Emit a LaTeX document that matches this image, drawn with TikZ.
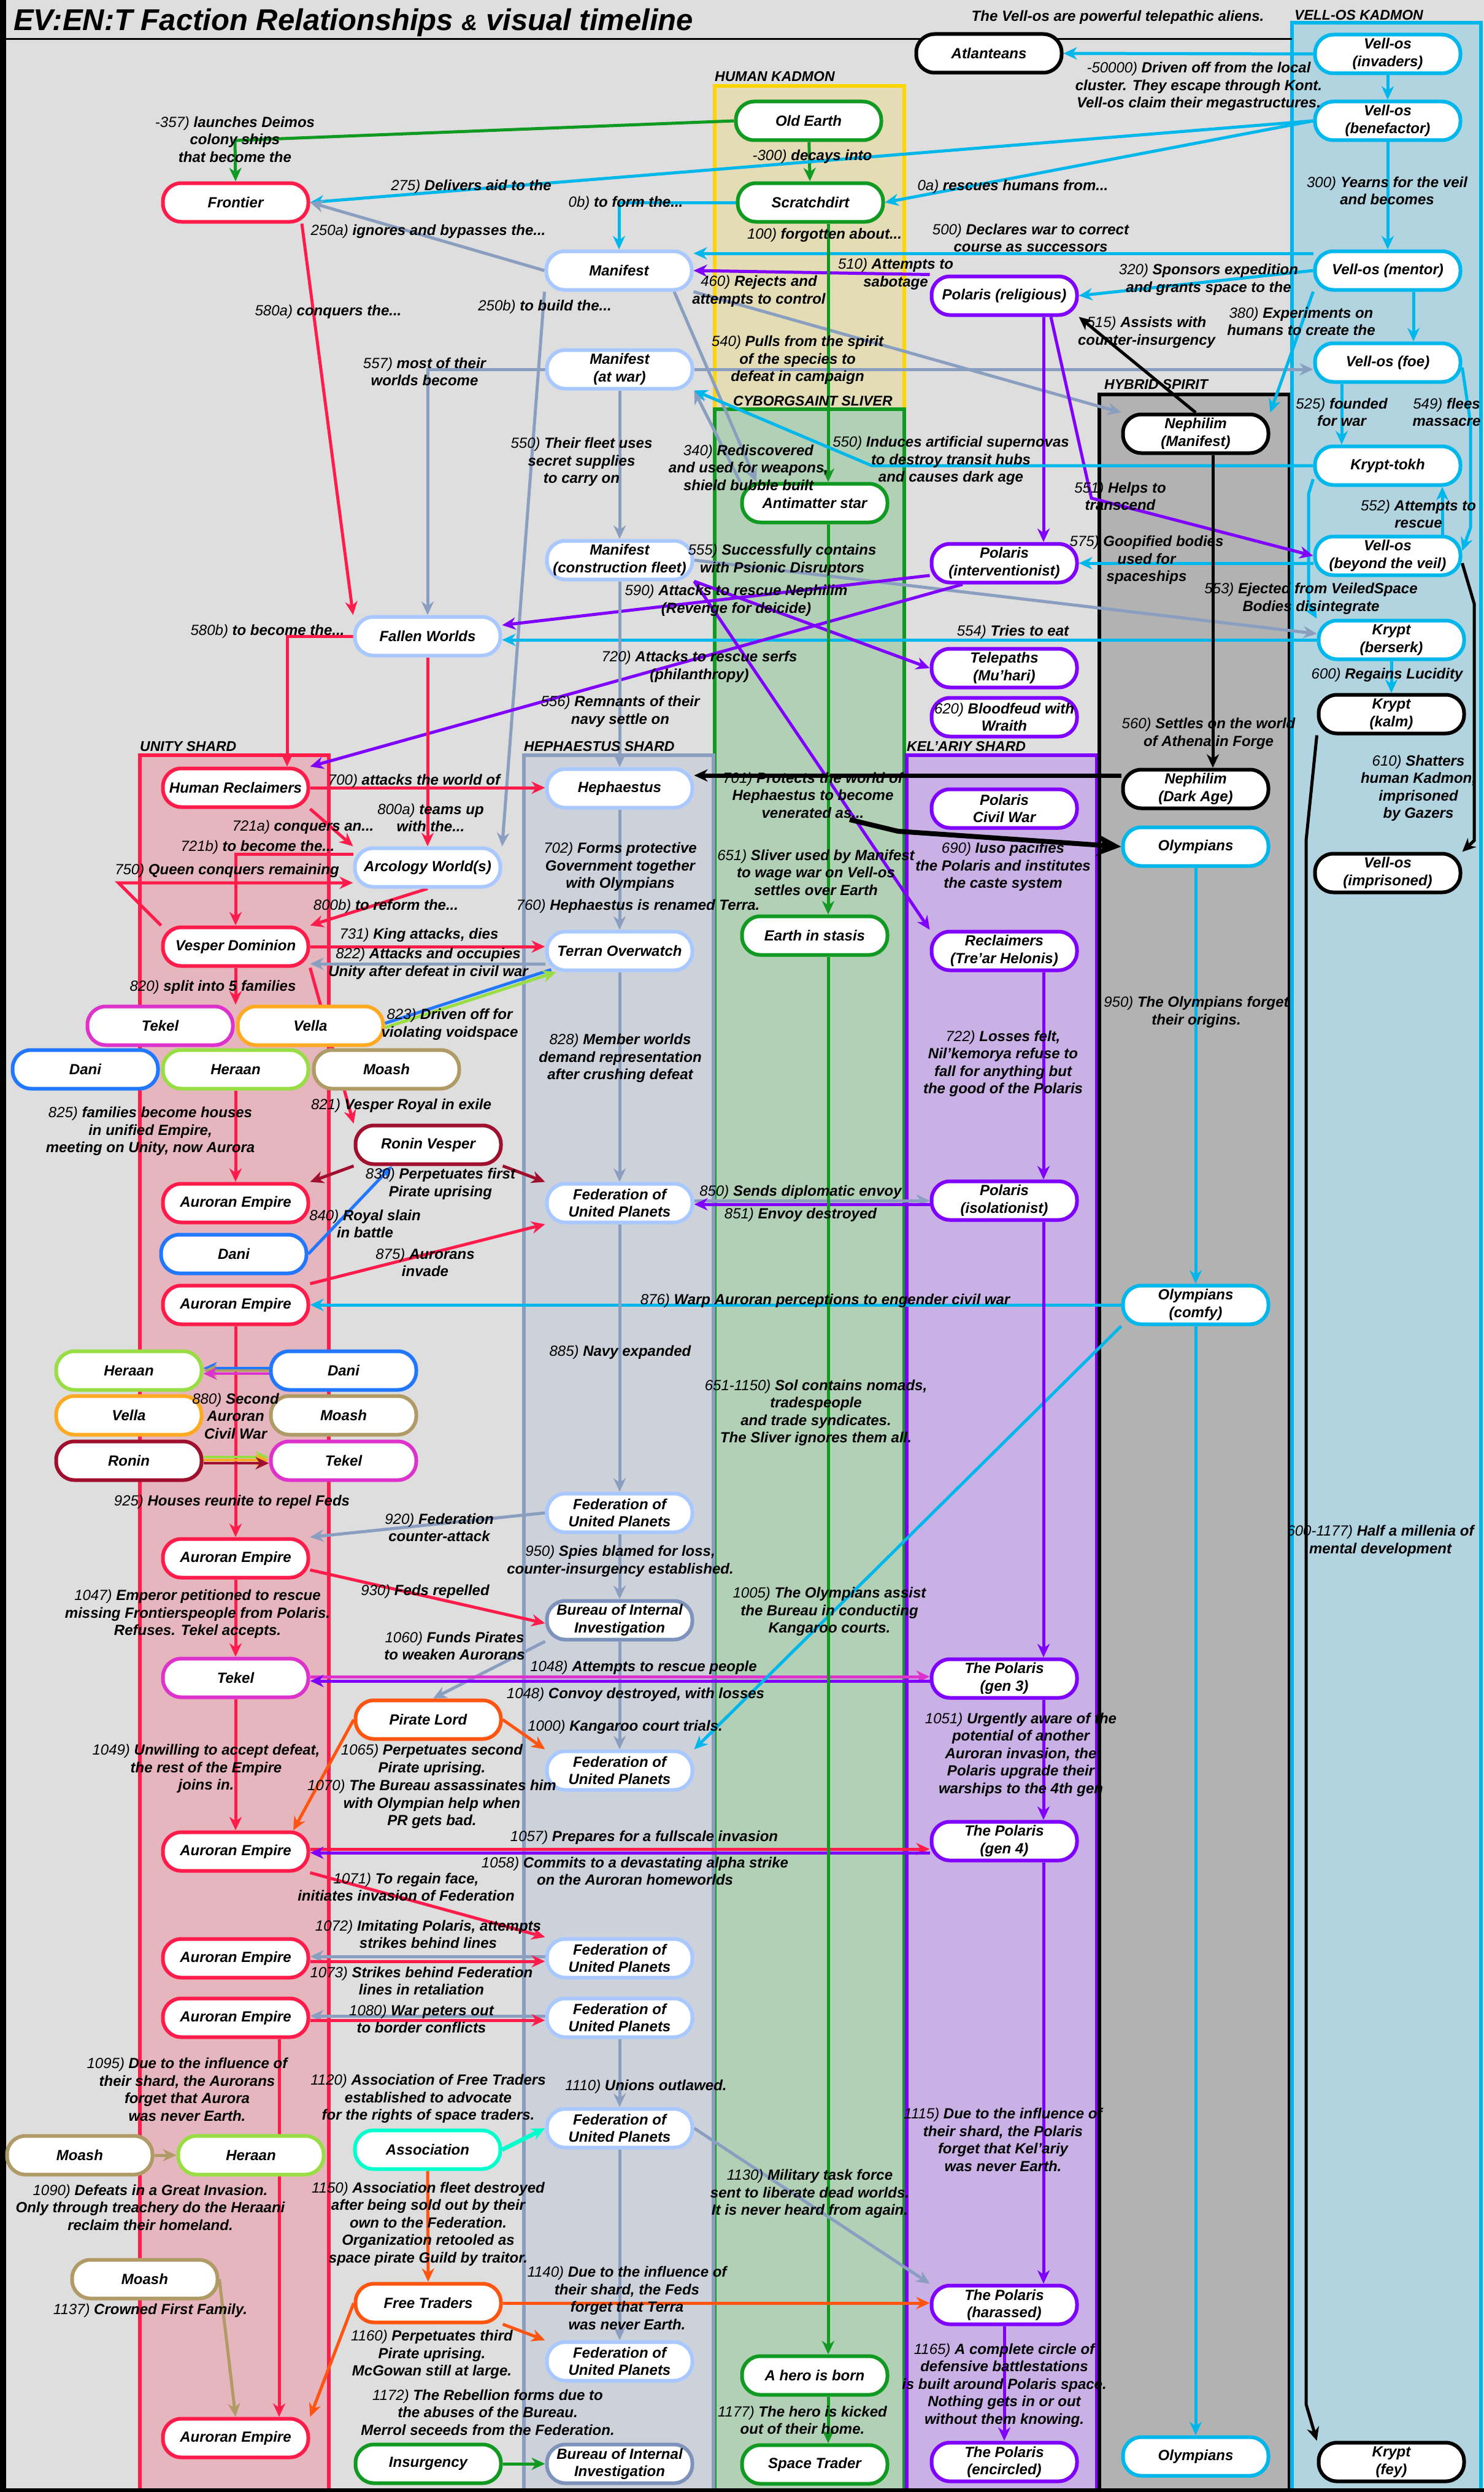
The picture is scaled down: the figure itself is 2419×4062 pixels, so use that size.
\documentclass[tikz,border=0pt]{standalone}
\usepackage{fontspec}
\setmainfont{Liberation Sans}
\usetikzlibrary{arrows.meta, positioning, calc}
\pgfdeclarelayer{back}
\pgfdeclarelayer{wires}
\pgfsetlayers{back,wires,main}
\definecolor{bggray}{RGB}{222,222,222}
\definecolor{kadfill}{RGB}{227,220,181}
\definecolor{kadgold}{RGB}{255,213,0}
\definecolor{slvfill}{RGB}{178,208,182}
\definecolor{slvgreen}{RGB}{17,154,34}
\definecolor{hepfill}{RGB}{205,209,218}
\definecolor{hepgray}{RGB}{138,158,192}
\definecolor{unifill}{RGB}{230,182,191}
\definecolor{unired}{RGB}{255,28,74}
\definecolor{kelfill}{RGB}{201,177,229}
\definecolor{kelpurple}{RGB}{128,0,255}
\definecolor{hybfill}{RGB}{178,178,178}
\definecolor{velfill}{RGB}{177,212,224}
\definecolor{velcyan}{RGB}{0,183,235}
\definecolor{manpale}{RGB}{168,200,255}
\definecolor{burgray}{RGB}{125,147,187}
\definecolor{tekmag}{RGB}{221,51,204}
\definecolor{velorange}{RGB}{255,170,34}
\definecolor{daniblue}{RGB}{34,119,255}
\definecolor{herlime}{RGB}{153,221,68}
\definecolor{moatan}{RGB}{176,154,102}
\definecolor{ronred}{RGB}{160,16,46}
\definecolor{pirorange}{RGB}{255,85,17}
\definecolor{assaqua}{RGB}{0,255,204}
\newcommand{\nodefont}{\fontsize{24}{28.5}\selectfont\bfseries\itshape}
\newcommand{\notefont}{\fontsize{24}{28.5}\selectfont\bfseries\itshape}
\newcommand{\shardfont}{\fontsize{23}{26}\selectfont\bfseries\itshape}
\newcommand{\titlefont}{\fontsize{49}{54}\selectfont\bfseries\itshape}
\newcommand{\yr}[1]{{\mdseries #1}}
\tikzset{
  faction/.style={rectangle, rounded corners=30pt, draw=#1, fill=white,
    line width=6pt, minimum width=237pt, minimum height=63pt,
    align=center, font=\nodefont, inner sep=2pt},
  arrow/.style={-{Stealth[length=22pt,width=20pt,inset=7pt]}, line width=5pt, color=#1},
  arrow/.default=black,
  line/.style={line width=5pt, color=#1},
  bigarrow/.style={-{Stealth[length=40pt,width=36pt,inset=12pt]}, line width=8pt, color=black},
  note/.style={font=\notefont, align=center, inner sep=0pt},
  shard/.style={draw=#1, line width=6pt},
  shardname/.style={font=\shardfont, anchor=base west, inner sep=0pt}
}

\begin{document}
\begin{tikzpicture}[x=1pt, y=-1pt]
\useasboundingbox (0,0) rectangle (2419,4062);

\begin{pgfonlayer}{back}
  \fill[bggray] (0,0) rectangle (2419,4062);
  % shards
  \filldraw[shard=kadgold, fill=kadfill] (1165,140) rectangle (1474,667);
  \filldraw[shard=slvgreen, fill=slvfill] (1165,667) rectangle (1474,4075);
  \filldraw[shard=hepgray, fill=hepfill] (854,1231) rectangle (1163,4075);
  \filldraw[shard=unired, fill=unifill] (228,1231) rectangle (536,4075);
  \filldraw[shard=kelpurple, fill=kelfill] (1478,1231) rectangle (1788,4075);
  \filldraw[shard=black, fill=hybfill] (1792,643) rectangle (2102,4075);
  \filldraw[shard=velcyan, fill=velfill] (2106,37) rectangle (2414,4075);
  % frame
  \fill[black] (0,0) rectangle (10,4062);
  \fill[black] (0,4056) rectangle (2419,4062);
  \draw[line width=3pt] (10,64) -- (2106,64);
\end{pgfonlayer}

\node[shardname] at (1165,133) {HUMAN KADMON};
\node[shardname] at (1195,661) {CYBORGSAINT SLIVER};
\node[shardname] at (1800,634) {HYBRID SPIRIT};
\node[shardname] at (2110,33) {VELL-OS KADMON};
\node[shardname] at (228,1224) {UNITY SHARD};
\node[shardname] at (854,1224) {HEPHAESTUS SHARD};
\node[shardname] at (1478,1224) {KEL'ARIY SHARD};
\node[anchor=base west, font=\titlefont, inner sep=0pt] (title) at (22,50)
  {EV:EN:T Faction Relationships {\fontsize{36}{40}\selectfont\&} visual timeline};

% nodes
\node[faction=black] (atlanteans) at (1612,87) {Atlanteans};
\node[faction=velcyan] (velinv) at (2262,88) {Vell-os\\(invaders)};
\node[faction=velcyan] (velben) at (2262,197) {Vell-os\\(benefactor)};
\node[faction=slvgreen] (oldearth) at (1318,197) {Old Earth};
\node[faction=slvgreen] (scratch) at (1321,330) {Scratchdirt};
\node[faction=unired] (frontier) at (384,330) {Frontier};
\node[faction=manpale] (manifest) at (1009,441) {Manifest};
\node[faction=velcyan] (velmen) at (2262,441) {Vell-os (mentor)};
\node[faction=kelpurple] (polrel) at (1637,482) {Polaris (religious)};
\node[faction=velcyan] (velfoe) at (2262,591) {Vell-os (foe)};
\node[faction=manpale] (manwar) at (1010,602) {Manifest\\(at war)};
\node[faction=black] (nephman) at (1949,707) {Nephilim\\(Manifest)};
\node[faction=velcyan] (krypttokh) at (2262,759) {Krypt-tokh};
\node[faction=slvgreen] (antimatter) at (1328,820) {Antimatter star};
\node[faction=velcyan] (velbey) at (2262,906) {Vell-os\\(beyond the veil)};
\node[faction=manpale] (manfleet) at (1010,913) {Manifest\\(construction fleet)};
\node[faction=kelpurple] (polint) at (1637,918) {Polaris\\(interventionist)};
\node[faction=manpale] (fallen) at (697,1037) {Fallen Worlds};
\node[faction=velcyan] (kryptber) at (2268,1043) {Krypt\\(berserk)};
\node[faction=kelpurple] (telepaths) at (1637,1089) {Telepaths\\(Mu'hari)};
\node[faction=kelpurple] (bloodfeud) at (1637,1169) {\yr{620)} Bloodfeud with\\Wraith};
\node[faction=black] (kryptkalm) at (2268,1164) {Krypt\\(kalm)};
\node[faction=unired] (reclaimers) at (384,1284) {Human Reclaimers};
\node[faction=manpale] (hephaestus) at (1010,1285) {Hephaestus};
\node[faction=black] (nephdark) at (1949,1286) {Nephilim\\(Dark Age)};
\node[faction=kelpurple] (polcivil) at (1637,1318) {Polaris\\Civil War};
\node[faction=velcyan] (olympians) at (1949,1380) {Olympians};
\node[faction=manpale] (arcology) at (697,1414) {Arcology World(s)};
\node[faction=black] (velpris) at (2262,1423) {Vell-os\\(imprisoned)};
\node[faction=slvgreen] (earthstasis) at (1328,1525) {Earth in stasis};
\node[faction=unired] (vesper) at (384,1543) {Vesper Dominion};
\node[faction=manpale] (terran) at (1010,1550) {Terran Overwatch};
\node[faction=kelpurple] (trear) at (1637,1550) {Reclaimers\\(Tre'ar Helonis)};
\node[faction=tekmag] (tekelA) at (261,1672) {Tekel};
\node[faction=velorange] (vellaA) at (506,1672) {Vella};
\node[faction=daniblue] (daniA) at (139,1743) {Dani};
\node[faction=herlime] (heraanA) at (384,1743) {Heraan};
\node[faction=moatan] (moashA) at (630,1743) {Moash};
\node[faction=ronred] (roninvesper) at (698,1866) {Ronin Vesper};
\node[faction=kelpurple] (polisol) at (1637,1957) {Polaris\\(isolationist)};
\node[faction=manpale] (fedA) at (1010,1961) {Federation of\\United Planets};
\node[faction=unired] (aurA) at (384,1961) {Auroran Empire};
\node[faction=daniblue] (daniB) at (381,2044) {Dani};
\node[faction=unired] (aurB) at (384,2127) {Auroran Empire};
\node[faction=velcyan] (olycomfy) at (1949,2127) {Olympians\\(comfy)};
\node[faction=herlime] (heraanB) at (210,2234) {Heraan};
\node[faction=daniblue] (daniC) at (560,2234) {Dani};
\node[faction=velorange] (vellaB) at (210,2307) {Vella};
\node[faction=moatan] (moashB) at (560,2307) {Moash};
\node[faction=ronred] (roninB) at (210,2381) {Ronin};
\node[faction=tekmag] (tekelB) at (560,2381) {Tekel};
\node[faction=manpale] (fedB) at (1010,2466) {Federation of\\United Planets};
\node[faction=unired] (aurC) at (384,2540) {Auroran Empire};
\node[faction=burgray] (bureauA) at (1010,2641) {Bureau of Internal\\Investigation};
\node[faction=tekmag] (tekelC) at (384,2735) {Tekel};
\node[faction=kelpurple] (polgen3) at (1637,2736) {The Polaris\\(gen 3)};
\node[faction=pirorange] (piratelord) at (698,2803) {Pirate Lord};
\node[faction=manpale] (fedC) at (1010,2886) {Federation of\\United Planets};
\node[faction=kelpurple] (polgen4) at (1637,3001) {The Polaris\\(gen 4)};
\node[faction=unired] (aurD) at (384,3018) {Auroran Empire};
\node[faction=unired] (aurE) at (384,3192) {Auroran Empire};
\node[faction=manpale] (fedD) at (1010,3192) {Federation of\\United Planets};
\node[faction=unired] (aurF) at (384,3289) {Auroran Empire};
\node[faction=manpale] (fedE) at (1010,3289) {Federation of\\United Planets};
\node[faction=manpale] (fedF) at (1010,3469) {Federation of\\United Planets};
\node[faction=assaqua] (association) at (697,3504) {Association};
\node[faction=moatan] (moashC) at (130,3513) {Moash};
\node[faction=herlime] (heraanC) at (409,3513) {Heraan};
\node[faction=moatan] (moashD) at (236,3715) {Moash};
\node[faction=pirorange] (freetraders) at (698,3754) {Free Traders};
\node[faction=kelpurple] (polhar) at (1637,3757) {The Polaris\\(harassed)};
\node[faction=manpale] (fedG) at (1010,3849) {Federation of\\United Planets};
\node[faction=slvgreen] (herobirth) at (1328,3872) {A hero is born};
\node[faction=unired] (aurG) at (384,3974) {Auroran Empire};
\node[faction=slvgreen] (insurgency) at (698,4016) {Insurgency};
\node[faction=burgray] (bureauB) at (1010,4016) {Bureau of Internal\\Investigation};
\node[faction=slvgreen] (spacetrader) at (1328,4017) {Space Trader};
\node[faction=kelpurple] (polenc) at (1637,4013) {The Polaris\\(encircled)};
\node[faction=velcyan] (olybot) at (1949,4004) {Olympians};
\node[faction=black] (kryptfey) at (2268,4013) {Krypt\\(fey)};

\begin{pgfonlayer}{wires}
  % kadmon and vell-os
  \draw[arrow=slvgreen] (oldearth.west) -- (383,229) -- (frontier.north);
  \draw[arrow=slvgreen] (oldearth) -- (scratch);
  \draw[arrow=velcyan] (velben.west) -- (frontier.east);
  \draw[arrow=velcyan] (scratch.west) -| (manifest.north);
  \draw[arrow=velcyan] (velben.west) -- (scratch.east);
  \draw[arrow=velcyan] (velinv.west) -- (atlanteans.east);
  \draw[arrow=velcyan] (velinv) -- (velben);
  \draw[arrow=velcyan] (velben) -- (velmen);
  \draw[arrow=velcyan] ($(velmen.west)+(0,-28)$) -- ($(manifest.east)+(0,-28)$);
  \draw[arrow=kelpurple] (polrel.north west) -- (manifest.east);
  \draw[arrow=hepgray] (manifest.south east) -- (nephman.north west);
  \draw[arrow=hepgray] (manifest.west) -- (frontier.east);
  \draw[arrow=hepgray] (manifest.south west) -- (arcology.north east);
  \draw[arrow=hepgray] (manwar.west) -| (fallen.north);
  \draw[arrow=hepgray] (manwar) -- (manfleet);
  \draw[arrow=hepgray] ([xshift=90pt]manifest.south) -- ([xshift=-95pt]antimatter.north);
  \draw[arrow=hepgray] (antimatter.north west) -- (manwar.south east);
  \draw[arrow=hepgray] (manwar.east) -- (manwar.east -| velfoe.west);
  \draw[arrow=velcyan] (velmen.south west) -- (nephman.north east);
  \draw[arrow=velcyan] (velmen.west) -- (polrel.east);
  \draw[arrow=black] (nephman.north) -- (polrel.south east);
  \draw[arrow=velcyan] ([xshift=42pt]velmen.south) -- ([xshift=42pt]velfoe.north);
  \draw[arrow=velcyan] ([xshift=-75pt]velfoe.south) -- ([xshift=-75pt]krypttokh.north);
  \draw[arrow=velcyan] ([yshift=-8pt]velfoe.east) -- (2397,690) -- (2397,860) -- ([yshift=8pt]velbey.east);
  \draw[arrow=velcyan] ([xshift=89pt]velbey.north) -- ([xshift=89pt]krypttokh.south);
  \draw[arrow=velcyan] ([yshift=-22pt]krypttokh.west) -- (2133,805) -- (2133,985) -- (kryptber.north west);
  \draw[arrow=velcyan] (velbey.west |- polint.east) -- (polint.east);
  \draw[arrow=kelpurple] ([xshift=64pt]polrel.south) -- ([xshift=64pt]polint.north);
  \draw[arrow=kelpurple] ([xshift=76pt]polrel.south) -- (1779,812) -- (velbey.west);
  \draw[arrow=velcyan] (kryptber.west) -- (kryptber.west -| fallen.east);
  \draw[arrow=velcyan] (kryptber) -- (kryptkalm);
  \draw[arrow=hepgray] (manfleet.east) -- ([yshift=10pt]kryptber.west);
  \draw[arrow=kelpurple] ([yshift=-20pt]polint.west) -- ([yshift=18pt]fallen.east);
  \draw[arrow=kelpurple] ([xshift=-68pt]polint.south) -- (reclaimers.north east);
  \draw[arrow=kelpurple] (manfleet.south east) -- (telepaths.west);
  \draw[arrow=kelpurple] (manfleet.south east) -- (trear.north west);
  \draw[arrow=slvgreen] ([xshift=29pt]scratch.south) -- ([xshift=22pt]antimatter.north);
  \draw[arrow=velcyan] (krypttokh.west) -- (1421,759) -- (manwar.south east);
  \draw[arrow=hepgray] (manfleet) -- (hephaestus);
  \draw[arrow=black] ([xshift=28pt]nephman.south) -- ([xshift=28pt]nephdark.north);
  \draw[arrow=black, line width=7pt] ($(nephdark.west)+(0,-22)$) -- ($(nephdark.west -| hephaestus.east)+(0,-22)$);
  \coordinate (venerated) at (1385,1336);
  \draw[bigarrow] (venerated) -- (1464,1355) -- (olympians.west);
  % unity
  \draw[arrow=unired] (fallen) -- (arcology);
  \draw[arrow=unired] ([xshift=108pt]frontier.south) -- (fallen.north west);
  \draw[arrow=unired] (fallen.west) -| ([xshift=84pt]reclaimers.north);
  \draw[arrow=unired] (reclaimers.east) -- (reclaimers.east -| hephaestus.west);
  \draw[arrow=unired] (reclaimers.south east) -- (arcology.north west);
  \draw[arrow=unired] ($(arcology.west)+(0,-22)$) -| (vesper.north);
  \draw[arrow=unired] (vesper.north west) -- (193,1439) -- ($(arcology.west)+(0,25)$);
  \draw[arrow=unired] (arcology.south) -- (vesper.north east);
  \draw[arrow=unired] (vesper.east) -- (vesper.east -| terran.west);
  \draw[arrow=hepgray] ($(terran.west)+(0,21)$) -- ($(terran.west -| vesper.east)+(0,21)$);
  \draw[line=daniblue] ([yshift=4pt]vellaA.east) -- ([xshift=10pt,yshift=4pt]terran.south west);
  \draw[arrow=herlime] ([yshift=-3pt]vellaA.east) -- ([xshift=18pt]terran.south west);
  \draw[arrow=unired] (vesper.south) -- (vesper.south |- tekelA.north);
  \draw[arrow=unired] (vesper.south east) -- (roninvesper.north west);
  \draw[arrow=unired] (heraanA) -- (aurA);
  \draw[arrow=ronred] (roninvesper.south west) -- (aurA.north east);
  \draw[arrow=ronred] (roninvesper.south east) -- (fedA.north west);
  \draw[arrow=daniblue] (daniB.east) -- ([xshift=-59pt]roninvesper.south);
  \draw[arrow=unired] (aurB.north east) -- (fedA.south west);
  \draw[arrow=velcyan] (olycomfy.west) -- (aurB.east);
  \draw[arrow=unired] (aurB) -- (aurC);
  \draw[arrow=daniblue, line width=4pt] ([yshift=4pt]daniC.west) -- ([yshift=4pt]heraanB.east);
  \draw[arrow=moatan, line width=4pt] (daniC.west) -- (heraanB.east);
  \draw[arrow=tekmag, line width=4pt] ([yshift=-5pt]daniC.west) -- ([yshift=-5pt]heraanB.east);
  \draw[arrow=herlime, line width=4pt] ([yshift=6pt]roninB.east) -- ([yshift=6pt]tekelB.west);
  \draw[arrow=velorange, line width=4pt] ([yshift=1pt]roninB.east) -- ([yshift=1pt]tekelB.west);
  \draw[arrow=ronred, line width=4pt] ([yshift=-4pt]roninB.east) -- ([yshift=-4pt]tekelB.west);
  \draw[arrow=hepgray] (fedB.west) -- (aurC.north east);
  \draw[arrow=unired] ([yshift=-19pt]aurC.east) -- ([yshift=-5pt]bureauA.west);
  \draw[arrow=unired] (aurC) -- (tekelC);
  % hephaestus
  \draw[arrow=hepgray] (hephaestus) -- (terran);
  \draw[arrow=hepgray] (terran) -- (fedA);
  \draw[arrow=hepgray] (fedA) -- (fedB);
  \draw[arrow=hepgray] (fedB) -- (bureauA);
  \draw[arrow=hepgray] (bureauA) -- (fedC);
  \draw[arrow=hepgray] (bureauA.south west) -- ([xshift=8pt]piratelord.north);
  \draw[arrow=tekmag] ([yshift=2pt]tekelC.east) -- ($(tekelC.east -| polgen3.west)+(0,-2)$);
  \draw[arrow=kelpurple] ($(tekelC.east -| polgen3.west)+(0,5)$) -- ($(tekelC.east)+(0,5)$);
  \draw[arrow=unired] (tekelC) -- (aurD);
  \draw[arrow=pirorange] (piratelord.west) -- ([xshift=94pt]aurD.north);
  \draw[arrow=pirorange] (piratelord.east) -- (fedC.north west);
  \draw[arrow=velcyan] (olycomfy.south west) -- (fedC.north east);
  \draw[arrow=unired] ($(aurD.east)+(0,-4)$) -- ($(aurD.east -| polgen4.west)+(0,-4)$);
  \draw[arrow=kelpurple] ($(aurD.east -| polgen4.west)+(0,2)$) -- ($(aurD.east)+(0,2)$);
  \draw[arrow=unired] (aurD.south east) -- (fedD.north west);
  \draw[arrow=hepgray] ($(fedD.west)+(0,-3)$) -- ($(aurE.east)+(0,-3)$);
  \draw[arrow=unired] ($(aurE.east)+(0,5)$) -- ($(fedD.west)+(0,5)$);
  \draw[arrow=hepgray] ($(fedE.west)+(0,-3)$) -- ($(aurF.east)+(0,-3)$);
  \draw[arrow=unired] ($(aurF.east)+(0,4)$) -- ($(fedE.west)+(0,4)$);
  \draw[arrow=hepgray] ($(fedA.east)+(0,-4)$) -- ($(fedA.east -| polisol.west)+(0,-4)$);
  \draw[arrow=kelpurple] ($(fedA.east -| polisol.west)+(0,2)$) -- ($(fedA.east)+(0,2)$);
  % kel'ariy, hybrid, vell-os columns
  \draw[arrow=kelpurple] ([xshift=64pt]trear.south) -- ([xshift=64pt]polisol.north);
  \draw[arrow=kelpurple] ([xshift=64pt]polisol.south) -- ([xshift=64pt]polgen3.north);
  \draw[arrow=kelpurple] ([xshift=64pt]polgen3.south) -- ([xshift=64pt]polgen4.north);
  \draw[arrow=kelpurple] ([xshift=64pt]polgen4.south) -- ([xshift=64pt]polhar.north);
  \draw[arrow=kelpurple] (polhar) -- (polenc);
  \draw[arrow=velcyan] (olympians) -- (olycomfy);
  \draw[arrow=velcyan] (olycomfy) -- (olybot);
  \draw[arrow=black] (kryptkalm.south west) -- (2129,1370) -- (2129,3919) -- (kryptfey.north west);
  \draw[arrow=black] ([yshift=-12pt]velbey.east) -- (2403,984) -- (2403,1370) -- (velpris.north east);
  \draw[arrow=slvgreen] ([xshift=22pt]antimatter.south) -- ([xshift=22pt]earthstasis.north);
  \draw[arrow=slvgreen] ([xshift=22pt]earthstasis.south) -- ([xshift=22pt]herobirth.north);
  \draw[arrow=slvgreen] ([xshift=22pt]herobirth.south) -- ([xshift=22pt]spacetrader.north);
  % late federation
  \draw[arrow=hepgray] (fedE) -- (fedF);
  \draw[arrow=hepgray] (fedF) -- (fedG);
  \draw[arrow=hepgray] (fedF.east) -- (polhar.north west);
  \draw[arrow=assaqua, line width=7pt] (association.east) -- (fedF.west);
  \draw[arrow=pirorange] (association) -- (freetraders);
  \draw[arrow=pirorange] (freetraders.east) -- (freetraders.east -| polhar.west);
  \draw[arrow=pirorange] (freetraders.south east) -- (fedG.north west);
  \draw[arrow=pirorange] (freetraders.west) -- (aurG.north east);
  \draw[arrow=moatan] (moashC) -- (heraanC);
  \draw[arrow=moatan] (moashD.east) -- (aurG.north);
  \draw[arrow=unired] ([xshift=71pt]aurF.south) -- ([xshift=71pt]aurG.north);
  \draw[arrow=slvgreen] (insurgency) -- (bureauB);
\end{pgfonlayer}

% event labels
\node[note] at (1822,28) {The Vell-os are powerful telepathic aliens.};
\node[note] at (1954,141) {\yr{-50000)} Driven off from the local\\cluster. They escape through Kont.\\Vell-os claim their megastructures.};
\node[note] at (383,227) {\yr{-357)} launches Deimos\\colony ships\\that become the};
\node[note] at (1324,255) {\yr{-300)} decays into};
\node[note] at (768,304) {\yr{275)} Delivers aid to the};
\node[note] at (1020,331) {\yr{0b)} to form the...};
\node[note] at (1651,304) {\yr{0a)} rescues humans from...};
\node[note] at (2261,311) {\yr{300)} Yearns for the veil\\and becomes};
\node[note] at (698,377) {\yr{250a)} ignores and bypasses the...};
\node[note] at (1344,383) {\yr{100)} forgotten about...};
\node[note] at (1680,388) {\yr{500)} Declares war to correct\\course as successors};
\node[note] at (1460,447) {\yr{510)} Attempts to\\sabotage};
\node[note] at (1970,456) {\yr{320)} Sponsors expedition\\and grants space to the};
\node[note] at (1237,475) {\yr{460)} Rejects and\\attempts to control};
\node[note] at (888,500) {\yr{250b)} to build the...};
\node[note] at (535,508) {\yr{580a)} conquers the...};
\node[note] at (2121,524) {\yr{380)} Experiments on\\humans to create the};
\node[note] at (1869,542) {\yr{515)} Assists with\\counter-insurgency};
\node[note] at (1300,587) {\yr{540)} Pulls from the spirit\\of the species to\\defeat in campaign};
\node[note] at (692,606) {\yr{557)} most of their\\worlds become};
\node[note] at (2187,672) {\yr{525)} founded\\for war};
\node[note] at (2358,672) {\yr{549)} flees\\massacre};
\node[note] at (948,753) {\yr{550)} Their fleet uses\\secret supplies\\to carry on};
\node[note] at (1220,762) {\yr{340)} Rediscovered\\and used for weapons,\\shield bubble built};
\node[note] at (1550,751) {\yr{550)} Induces artificial supernovas\\to destroy transit hubs\\and causes dark age};
\node[note] at (1826,809) {\yr{551)} Helps to\\transcend};
\node[note] at (2312,838) {\yr{552)} Attempts to\\rescue};
\node[note] at (1869,913) {\yr{575)} Goopified bodies\\used for\\spaceships};
\node[note] at (1275,913) {\yr{555)} Successfully contains\\with Psionic Disruptors};
\node[note] at (2137,976) {\yr{553)} Ejected from VeiledSpace\\Bodies disintegrate};
\node[note] at (1200,979) {\yr{590)} Attacks to rescue Nephilim\\(Revenge for deicide)};
\node[note] at (436,1029) {\yr{580b)} to become the...};
\node[note] at (1651,1030) {\yr{554)} Tries to eat};
\node[note] at (1140,1087) {\yr{720)} Attacks to rescue serfs\\(philanthropy)};
\node[note] at (2261,1100) {\yr{600)} Regains Lucidity};
\node[note] at (1011,1160) {\yr{556)} Remnants of their\\navy settle on};
\node[note] at (1970,1196) {\yr{560)} Settles on the world\\of Athena in Forge};
\node[note] at (2312,1285) {\yr{610)} Shatters\\human Kadmon,\\imprisoned\\by Gazers};
\node[note] at (675,1273) {\yr{700)} attacks the world of};
\node[note] at (1325,1296) {\yr{701)} Protects the world of\\Hephaestus to become\\venerated as...};
\node[note] at (702,1333) {\yr{800a)} teams up\\with the...};
\node[note] at (494,1348) {\yr{721a)} conquers an...};
\node[note] at (420,1381) {\yr{721b)} to become the...};
\node[note] at (1011,1413) {\yr{702)} Forms protective\\Government together\\with Olympians};
\node[note] at (1635,1413) {\yr{690)} Iuso pacifies\\the Polaris and institutes\\the caste system};
\node[note] at (1330,1422) {\yr{651)} Sliver used by Manifest\\to wage war on Vell-os\\settles over Earth};
\node[note] at (370,1419) {\yr{750)} Queen conquers remaining};
\node[note] at (629,1477) {\yr{800b)} to reform the...};
\node[note] at (1040,1477) {\yr{760)} Hephaestus is renamed Terra.};
\node[note] at (683,1524) {\yr{731)} King attacks, dies};
\node[note] at (698,1571) {\yr{822)} Attacks and occupies\\Unity after defeat in civil war};
\node[note] at (347,1609) {\yr{820)} split into 5 families};
\node[note] at (733,1670) {\yr{823)} Driven off for\\violating voidspace};
\node[note] at (1950,1650) {\yr{950)} The Olympians forget\\their origins.};
\node[note] at (1011,1725) {\yr{828)} Member worlds\\demand representation\\after crushing defeat};
\node[note] at (1635,1734) {\yr{722)} Losses felt,\\Nil'kemorya refuse to\\fall for anything but\\the good of the Polaris};
\node[note] at (654,1802) {\yr{821)} Vesper Royal in exile};
\node[note] at (245,1844) {\yr{825)} families become houses\\in unified Empire,\\meeting on Unity, now Aurora};
\node[note] at (718,1930) {\yr{830)} Perpetuates first\\Pirate uprising};
\node[note] at (1305,1943) {\yr{850)} Sends diplomatic envoy};
\node[note] at (1305,1980) {\yr{851)} Envoy destroyed};
\node[note] at (595,1995) {\yr{840)} Royal slain\\in battle};
\node[note] at (693,2058) {\yr{875)} Aurorans\\invade};
\node[note] at (1345,2120) {\yr{876)} Warp Auroran perceptions to engender civil war};
\node[note] at (1011,2204) {\yr{885)} Navy expanded};
\node[note] at (1330,2303) {\yr{651-1150)} Sol contains nomads,\\tradespeople\\and trade syndicates.\\The Sliver ignores them all.};
\node[note] at (384,2308) {\yr{880)} Second\\Auroran\\Civil War};
\node[note] at (378,2448) {\yr{925)} Houses reunite to repel Feds};
\node[note] at (716,2490) {\yr{920)} Federation\\counter-attack};
\node[note] at (2250,2512) {\yr{600-1177)} Half a millenia of\\mental development};
\node[note] at (1011,2545) {\yr{950)} Spies blamed for loss,\\counter-insurgency established.};
\node[note] at (693,2594) {\yr{930)} Feds repelled};
\node[note] at (1352,2627) {\yr{1005)} The Olympians assist\\the Bureau in conducting\\Kangaroo courts.};
\node[note] at (322,2631) {\yr{1047)} Emperor petitioned to rescue\\missing Frontierspeople from Polaris.\\Refuses. Tekel accepts.};
\node[note] at (741,2683) {\yr{1060)} Funds Pirates\\to weaken Aurorans};
\node[note] at (1049,2718) {\yr{1048)} Attempts to rescue people};
\node[note] at (1036,2762) {\yr{1048)} Convoy destroyed, with losses};
\node[note] at (1019,2815) {\yr{1000)} Kangaroo court trials.};
\node[note] at (1664,2860) {\yr{1051)} Urgently aware of the\\potential of another\\Auroran invasion, the\\Polaris upgrade their\\warships to the 4th gen};
\node[note] at (336,2883) {\yr{1049)} Unwilling to accept defeat,\\the rest of the Empire\\joins in.};
\node[note] at (704,2869) {\yr{1065)} Perpetuates second\\Pirate uprising.};
\node[note] at (704,2941) {\yr{1070)} The Bureau assassinates him\\with Olympian help when\\PR gets bad.};
\node[note] at (1050,2995) {\yr{1057)} Prepares for a fullscale invasion};
\node[note] at (1035,3050) {\yr{1058)} Commits to a devastating alpha strike\\on the Auroran homeworlds};
\node[note] at (662,3076) {\yr{1071)} To regain face,\\initiates invasion of Federation};
\node[note] at (698,3153) {\yr{1072)} Imitating Polaris, attempts\\strikes behind lines};
\node[note] at (687,3229) {\yr{1073)} Strikes behind Federation\\lines in retaliation};
\node[note] at (687,3291) {\yr{1080)} War peters out\\to border conflicts};
\node[note] at (305,3406) {\yr{1095)} Due to the influence of\\their shard, the Aurorans\\forget that Aurora\\was never Earth.};
\node[note] at (1053,3401) {\yr{1110)} Unions outlawed.};
\node[note] at (698,3421) {\yr{1120)} Association of Free Traders\\established to advocate\\for the rights of space traders.};
\node[note] at (1635,3488) {\yr{1115)} Due to the influence of\\their shard, the Polaris\\forget that Kel'ariy\\was never Earth.};
\node[note] at (1320,3576) {\yr{1130)} Military task force\\sent to liberate dead worlds.\\It is never heard from again.};
\node[note] at (245,3598) {\yr{1090)} Defeats in a Great Invasion.\\Only through treachery do the Heraani\\reclaim their homeland.};
\node[note] at (698,3625) {\yr{1150)} Association fleet destroyed\\after being sold out by their\\own to the Federation.\\Organization retooled as\\space pirate Guild by traitor.};
\node[note] at (1022,3746) {\yr{1140)} Due to the influence of\\their shard, the Feds\\forget that Terra\\was never Earth.};
\node[note] at (245,3766) {\yr{1137)} Crowned First Family.};
\node[note] at (704,3838) {\yr{1160)} Perpetuates third\\Pirate uprising.\\McGowan still at large.};
\node[note] at (1637,3888) {\yr{1165)} A complete circle of\\defensive battlestations\\is built around Polaris space.\\Nothing gets in or out\\without them knowing.};
\node[note] at (795,3932) {\yr{1172)} The Rebellion forms due to\\the abuses of the Bureau.\\Merrol seceeds from the Federation.};
\node[note] at (1308,3945) {\yr{1177)} The hero is kicked\\out of their home.};
\end{tikzpicture}
\end{document}
